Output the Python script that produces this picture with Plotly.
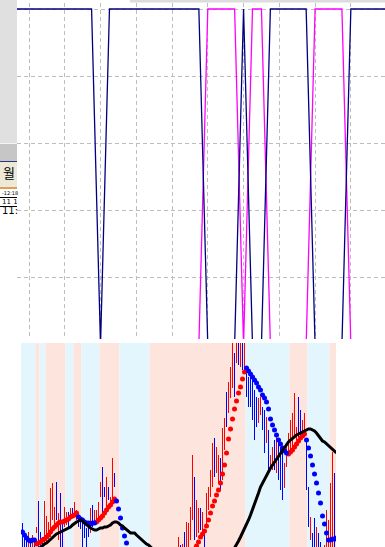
import plotly.graph_objects as go

W, H = 385, 547

# ---------------- top panel: two complementary 0/1 signals ----------------
sig_x = list(range(-2, 41))
navy_sig = [1, 1, 1, 1, 1, 1, 1, 1, 1, 1,      # k -2..7
            0,                                  # k 8
            1, 1, 1, 1, 1, 1, 1, 1, 1, 1, 1,    # k 9..19
            0, 0, 0, 0,                         # k 20..23
            1,                                  # k 24
            0, 0,                               # k 25..26
            1, 1, 1, 1, 1,                      # k 27..31
            0, 0, 0, 0,                         # k 32..35
            1, 1, 1, 1, 1]                      # k 36..40
magenta_sig = [0] * 22 + [1, 1, 1, 1, 0, 1, 1, 0, 0, 0, 0, 0, 1, 1, 1, 1, 0, 0, 0, 0, 0]

# ---------------- bottom panel: price bars, SAR dots, moving average ----------------
bar_low = [-5, -5, -3, -5, -2, -5, 0, 14, -2, -5,
           -5, 4, 4, 8, 10, 27, 22, 27, 7, -2,
           0, 20, 22, 20, 27, 30, 30, 27, 20, 18,
           -2, 9, -3, 10, 14, 20, 22, 27, 27, 50,
           34, 50, 40, 47, 46, 47, 60, -20, -30, -38,
           -45, -50, -58, -60, -65, -68, -70, -72, -75, -78,
           -80, -82, -80, -78, -74, -72, -68, -66, -62, -58,
           -55, -50, -45, -40, -35, -30, -25, -20, -5, -10,
           -8, -3, -2, 0, 7, 27, 7, 10, 14, 17,
           10, 0, 20, 37, 50, 60, 70, 74, 64, 57,
           67, 97, 120, 134, 149, 159, 150, 184, 182, 180,
           177, 174, 150, 140, 140, 127, 107, 120, 124, 132,
           117, 94, 104, 77, 80, 77, 77, 74, 67, 57,
           47, 59, 80, 94, 97, 97, 110, 107, 110, 110,
           110, 110, 57, 20, 7, -2, -5, -5, -5, -10,
           -12, -10, -5, -5, -5, -5, -5, -5]
bar_high = [24, 10, 8, 15, 6, 12, 6, 20, 46, 15,
            10, 46, 31, 25, 59, 64, 40, 65, 34, 54,
            25, 40, 35, 35, 39, 39, 45, 37, 34, 30,
            29, 24, 19, 25, 39, 42, 37, 37, 45, 65,
            80, 60, 70, 60, 50, 89, 74, -2, -8, -15,
            -22, -28, -35, -40, -42, -48, -50, -55, -58, -60,
            -62, -65, -62, -60, -55, -52, -48, -45, -42, -38,
            -35, -30, -25, -22, -18, -12, -8, -3, 10, 2,
            3, 15, 25, 24, 40, 92, 70, 47, 39, 39,
            35, 15, 54, 60, 77, 104, 109, 100, 92, 89,
            119, 129, 155, 165, 180, 215, 194, 215, 210, 220,
            215, 220, 176, 170, 174, 167, 157, 150, 149, 150,
            140, 137, 130, 117, 92, 100, 107, 110, 107, 100,
            97, 84, 104, 114, 127, 134, 154, 120, 150, 137,
            127, 134, 107, 60, 30, 14, 29, 20, 14, 5,
            0, 2, 37, 27, 64, 95, 74, 40]
bar_dir = [-1, -1, -1, 1, -1, 1, -1, 1, -1, -1,
           -1, 1, 1, 1, 1, 1, 1, -1, 1, -1,
           -1, 1, 1, -1, 1, -1, 1, 1, -1, -1,
           -1, -1, -1, -1, 1, -1, 1, 1, 1, 1,
           -1, -1, 1, -1, 1, 1, -1, -1, -1, -1,
           -1, -1, -1, 1, -1, -1, 1, -1, -1, 1,
           -1, -1, 1, 1, 1, 1, 1, -1, 1, 1,
           1, 1, -1, 1, 1, 1, -1, 1, 1, -1,
           1, -1, 1, 1, 1, 1, -1, 1, 1, -1,
           1, -1, 1, 1, 1, 1, -1, 1, 1, -1,
           1, 1, -1, 1, 1, 1, -1, 1, -1, 1,
           -1, 1, -1, -1, -1, -1, -1, -1, 1, 1,
           -1, -1, 1, -1, 1, 1, -1, 1, -1, -1,
           -1, 1, 1, 1, 1, 1, 1, 1, -1, -1,
           1, 1, -1, -1, 1, -1, -1, 1, -1, -1,
           -1, 1, 1, 1, 1, 1, -1, 1]
sar = [15, 12, 9, 7, 6, 7, 7,
       3, 4, 5, 7, 8, 10, 12, 15, 18, 20, 22, 24, 25, 25, 26, 27, 28, 30, 31, 32, 34,
       30, 28, 27, 25, 24, 24, 23, 24, 24,
       25, 27, 29, 31, 34, 37, 40, 42, 45, 48,
       46, 38, 29, 19, 11, 4, -4, -12, -19, -26, -32, -38, -43, -48, -52, -56, -59,
       -82, -80, -78, -75, -72, -68, -64, -60, -56, -52, -47, -42, -37, -32, -27, -22,
       -20, -16, -12, -9, -6, -4, -2, 1,
       5, 10, 13, 16, 21, 27, 34, 41, 46, 52, 57, 64, 73, 82, 94, 108, 118, 128, 138,
       146, 154, 160, 168, 175,
       179, 176, 173, 170, 167, 164, 160, 157, 152, 149, 145, 138, 128, 122, 117, 112,
       107, 103, 99, 96, 94,
       93, 95, 97, 100, 103, 106, 109, 111, 113,
       107, 99, 91, 82, 73, 64, 54, 44, 31, 23, 14, 7, 7, 8, 8, 9]
# index where SAR trend starts: 1 = rising (red), -1 = falling (blue)
sar_switch = [(0, -1), (7, 1), (28, -1), (37, 1), (47, -1), (64, 1), (112, -1), (133, 1), (142, -1)]
ma = [-12, -11, -10, -9, -8, -6, -5, -4, -2, 0,
      1, 3, 4, 6, 7, 9, 11, 13, 14, 15,
      16, 17, 18, 19, 20, 22, 24, 25, 26, 27,
      26, 24, 22, 20, 19, 18, 17, 17, 18, 19,
      19, 20, 20, 21, 22, 24, 25, 25, 24, 22,
      21, 19, 17, 15, 14, 14, 14, 12, 10, 9,
      7, 5, 3, 2, 0, -2, -4, -6, -8, -10,
      -12, -13, -15, -16, -17, -18, -19, -20, -20, -21,
      -21, -21, -21, -20, -20, -19, -19, -18, -17, -16,
      -15, -14, -13, -12, -12, -11, -11, -10, -10, -9,
      -9, -8, -8, -7, -6, -4, -1, 2, 6, 10,
      14, 18, 22, 27, 32, 37, 42, 48, 54, 60,
      64, 68, 72, 75, 79, 82, 85, 88, 91, 94,
      97, 100, 102, 105, 107, 109, 110, 112, 113, 114,
      115, 116, 117, 118, 118, 117, 116, 114, 111, 108,
      106, 105, 103, 101, 100, 98, 96, 94]
# background regime bands (first bar, last bar, 1 = up/pink, -1 = down/blue)
bands = [(0, 6, -1), (7, 8, 1), (9, 11, -1), (12, 21, 1), (22, 25, -1), (26, 29, 1),
         (30, 38, -1), (39, 48, 1), (49, 63, -1), (64, 111, 1), (112, 133, -1),
         (134, 142, 1), (143, 153, -1), (154, 157, 1)]

n = len(bar_low)
idx = list(range(n))
X2_LO, X2_HI = -0.75, 156.75   # exactly 2 px per bar, bars centred on pixel centres


def px_x(p):
    return p / W


def px_y(p):
    return 1 - p / H


fig = go.Figure()

# top signals
fig.add_trace(go.Scatter(x=sig_x, y=magenta_sig, mode="lines",
                         line=dict(color="#ff00ff", width=1.3), xaxis="x", yaxis="y",
                         hoverinfo="skip"))
fig.add_trace(go.Scatter(x=sig_x, y=navy_sig, mode="lines",
                         line=dict(color="#000080", width=1.3), xaxis="x", yaxis="y",
                         hoverinfo="skip"))

# bars
for d, col in [(1, "#ff0000"), (-1, "#0000ff")]:
    bx, by = [], []
    for i in idx:
        if bar_dir[i] == d:
            bx += [i, i, None]
            by += [bar_low[i], bar_high[i], None]
    fig.add_trace(go.Scatter(x=bx, y=by, mode="lines", line=dict(color=col, width=1),
                             xaxis="x2", yaxis="y2", hoverinfo="skip"))

# SAR dots
trend = []
for k, (start, d) in enumerate(sar_switch):
    end = sar_switch[k + 1][0] if k + 1 < len(sar_switch) else n
    trend += [d] * (end - start)
for d, col in [(1, "#ff0000"), (-1, "#0000ff")]:
    xs = [i for i in idx if trend[i] == d]
    ys = [sar[i] for i in xs]
    fig.add_trace(go.Scatter(x=xs, y=ys, mode="markers",
                             marker=dict(color=col, size=5, line=dict(width=0)),
                             xaxis="x2", yaxis="y2", hoverinfo="skip"))

# moving average
fig.add_trace(go.Scatter(x=idx, y=ma, mode="lines", line=dict(color="#000000", width=3),
                         xaxis="x2", yaxis="y2", hoverinfo="skip"))

shapes = []
for a, b, d in bands:
    x0 = X2_LO if a == 0 else a - 0.5
    x1 = X2_HI if b == n - 1 else b + 0.5
    shapes.append(dict(type="rect", xref="x2", yref="y2 domain", x0=x0, x1=x1,
                       y0=0, y1=1, fillcolor="#fde4dc" if d == 1 else "#e3f6fd",
                       line=dict(width=0), layer="below"))


# screenshot fragment on the left
def rect(x0, y0, x1, y1, color):
    shapes.append(dict(type="rect", xref="paper", yref="paper",
                       x0=px_x(x0), x1=px_x(x1), y0=px_y(y1), y1=px_y(y0),
                       fillcolor=color, line=dict(width=0), layer="above"))


rect(0, 0, 17, 143, "#e0e0e0")
rect(0, 143, 17, 144, "#f4f4f4")
rect(0, 144, 17, 161, "#c6c6c6")
rect(0, 161, 17, 162, "#2b3b7a")
rect(0, 162, 17, 187, "#ece9d8")
rect(0, 187, 17, 189, "#e0a050")
rect(0, 197, 17, 198, "#000000")
rect(0, 206, 17, 207, "#000000")
rect(130, 0, 385, 2.5, "#dcdcdc")

annotations = [
    dict(text="월", x=px_x(1), y=px_y(172), xref="paper", yref="paper", xanchor="left",
         yanchor="middle", showarrow=False,
         font=dict(family="Noto Sans CJK KR", size=13, color="#000")),
    dict(text="-12:18", x=0, y=px_y(193), xref="paper", yref="paper", xanchor="left",
         yanchor="middle", showarrow=False, font=dict(family="DejaVu Sans", size=5, color="#000")),
    dict(text="11 1", x=0, y=px_y(202), xref="paper", yref="paper", xanchor="left",
         yanchor="middle", showarrow=False, font=dict(family="DejaVu Sans", size=7, color="#000")),
    dict(text="11:", x=0, y=px_y(211), xref="paper", yref="paper", xanchor="left",
         yanchor="middle", showarrow=False, font=dict(family="DejaVu Sans", size=10, color="#000")),
]

grid = dict(showgrid=True, gridcolor="#bdbdbd", gridwidth=1, griddash="4px,3px",
            zeroline=False, showline=False, showticklabels=False, ticks="")
fig.update_layout(
    width=W, height=H, margin=dict(l=0, r=0, t=0, b=0),
    paper_bgcolor="#ffffff", plot_bgcolor="rgba(0,0,0,0)", showlegend=False,
    xaxis=dict(domain=[px_x(17), 1], range=[-1.342, 39.82], dtick=4, tick0=0, **grid),
    yaxis=dict(domain=[px_y(339), px_y(3)], range=[6 / 336, 342 / 336], dtick=0.2, tick0=0, **grid),
    xaxis2=dict(domain=[px_x(21), px_x(336)], range=[X2_LO, X2_HI], anchor="y2",
                showgrid=False, zeroline=False, showline=False, showticklabels=False, ticks=""),
    yaxis2=dict(domain=[0, px_y(343)], range=[0, 204], anchor="x2",
                showgrid=False, zeroline=False, showline=False, showticklabels=False, ticks=""),
    shapes=shapes, annotations=annotations,
)

fig.write_html("out.html")
